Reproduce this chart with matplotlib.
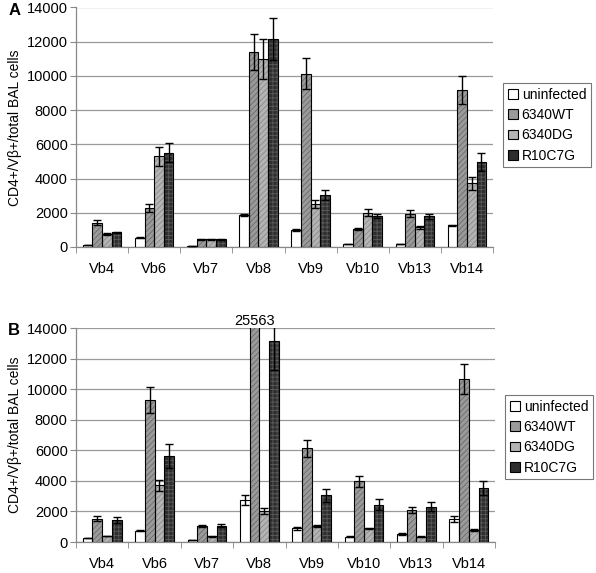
import matplotlib
matplotlib.use("Agg")
import matplotlib.pyplot as plt
import numpy as np

plt.rcParams['font.family'] = ['Liberation Sans', 'DejaVu Sans']
plt.rcParams['hatch.linewidth'] = 0.6

categories = ["Vb4", "Vb6", "Vb7", "Vb8", "Vb9", "Vb10", "Vb13", "Vb14"]
series = ["uninfected", "6340WT", "6340DG", "R10C7G"]

# Panel A values and errors
a_uninfected = [120, 540, 60, 1850, 990, 170, 170, 1260]
a_wt = [1420, 2290, 460, 11400, 10120, 1070, 1940, 9170]
a_dg = [760, 5300, 460, 10990, 2490, 2000, 1150, 3730]
a_r10 = [850, 5510, 460, 12170, 3030, 1810, 1790, 4970]
a_uninfected_err = [20, 40, 10, 60, 40, 20, 20, 40]
a_wt_err = [130, 230, 30, 1030, 900, 50, 200, 800]
a_dg_err = [40, 550, 30, 1150, 230, 200, 100, 370]
a_r10_err = [40, 560, 30, 1240, 310, 130, 150, 500]

# Panel B values and errors
b_uninfected = [260, 740, 130, 2740, 900, 350, 525, 1530]
b_wt = [1530, 9280, 1050, 25563, 6130, 3980, 2100, 10650]
b_dg = [390, 3700, 370, 2010, 1050, 900, 330, 790]
b_r10 = [1420, 5650, 1050, 13170, 3060, 2450, 2300, 3540]
b_uninfected_err = [30, 50, 20, 330, 100, 30, 40, 200]
b_wt_err = [170, 850, 60, 0, 570, 350, 200, 1000]
b_dg_err = [30, 380, 30, 200, 50, 40, 30, 40]
b_r10_err = [200, 790, 100, 1900, 440, 350, 300, 460]

off_label = "25563"

styles = [
    dict(fc="white", hatch=None, hc="black"),
    dict(fc="#9a9a9a", hatch="//////", hc="#6a6a6a"),
    dict(fc="#b4b4b4", hatch="//////", hc="#8a8a8a"),
    dict(fc="#2e2e2e", hatch="++++", hc="#5a5a5a"),
]

fig = plt.figure(figsize=(5.96, 5.73), dpi=100)

def panel(rect, vals, errs, letter, legend_rect, annotate=None):
    ax = fig.add_axes(rect)
    x = np.arange(len(categories))
    w = 0.185
    handles = []
    for i, (v, e, st) in enumerate(zip(vals, errs, styles)):
        pos = x + (i - 1.5) * w
        ax.bar(pos, v, w, color=st["fc"], edgecolor=st["hc"], hatch=st["hatch"],
               linewidth=0, zorder=2)
        ax.bar(pos, v, w, facecolor="none", edgecolor="black", linewidth=0.8, zorder=3)
        ax.errorbar(pos, v, yerr=e, fmt="none", ecolor="black", elinewidth=1.0,
                    capsize=3, capthick=1.0, zorder=4)
        handles.append(plt.Rectangle((0, 0), 1, 1, facecolor=st["fc"], edgecolor="black",
                                     hatch=None, linewidth=0.8))
    ax.set_xlim(-0.5, len(categories) - 0.5)
    ax.set_ylim(0, 14000)
    ax.set_yticks(np.arange(0, 14001, 2000))
    ax.yaxis.grid(True, color="#999999", linewidth=0.9)
    ax.set_axisbelow(True)
    ax.set_xticks(x)
    ax.set_xticklabels(categories, fontsize=10.5)
    ax.set_xticks(np.arange(-0.5, len(categories), 1), minor=True)
    ax.tick_params(axis="x", which="major", length=0, pad=11)
    ax.tick_params(axis="x", which="minor", length=4, color="#888888")
    ax.tick_params(axis="y", labelsize=10.5, length=4, color="#888888", pad=2)
    for s in ["top", "right"]:
        ax.spines[s].set_visible(False)
    for s in ["left", "bottom"]:
        ax.spines[s].set_color("#888888")
        ax.spines[s].set_linewidth(0.9)
    ax.set_ylabel("CD4+/V\u03b2+/total BAL cells", fontsize=10, labelpad=3)
    fig.text(0.014, rect[1] + rect[3] - 0.005, letter, fontsize=12, fontweight="bold",
             va="center")
    leg = fig.legend(handles, series, loc="upper left",
                     bbox_to_anchor=legend_rect, bbox_transform=fig.transFigure,
                     frameon=True, fancybox=False, edgecolor="#555555",
                     fontsize=10, handlelength=0.7, handleheight=0.7,
                     handletextpad=0.3, borderpad=0.35, labelspacing=0.45,
                     borderaxespad=0)
    leg.get_frame().set_linewidth(0.8)
    if annotate is not None:
        ci, si = annotate
        ax.text(x[ci] + (si - 1.5) * w, 14000, off_label, ha="center", va="bottom",
                fontsize=10.5, transform=ax.transData, clip_on=False)
    return ax

W, H = 596, 573
panel([76 / W, 1 - 247 / H, (493 - 76) / W, (247 - 7.5) / H],
      [a_uninfected, a_wt, a_dg, a_r10],
      [a_uninfected_err, a_wt_err, a_dg_err, a_r10_err],
      "A", (503 / W, 1 - 83 / H))
panel([76 / W, 1 - 542 / H, (495 - 76) / W, (542 - 328) / H],
      [b_uninfected, b_wt, b_dg, b_r10],
      [b_uninfected_err, b_wt_err, b_dg_err, b_r10_err],
      "B", (505 / W, 1 - 395 / H), annotate=(3, 1))

fig.savefig("out.png", dpi=100)
